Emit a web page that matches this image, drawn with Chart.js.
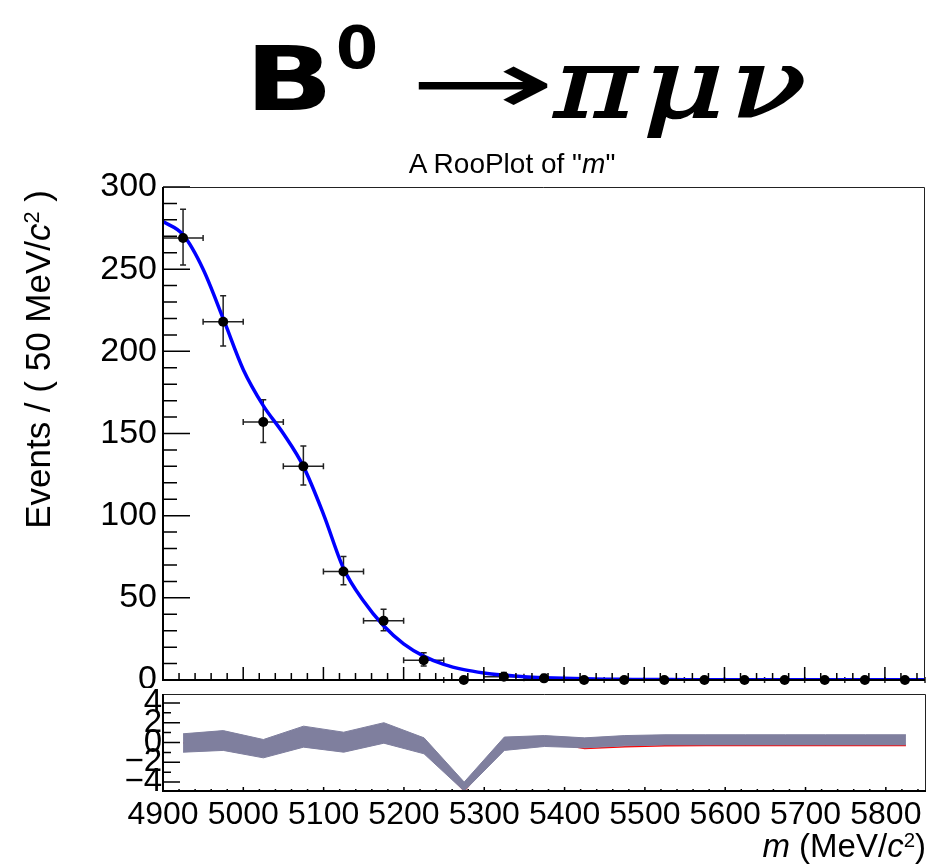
<!DOCTYPE html>
<html>
<head>
<meta charset="utf-8">
<script src="https://cdn.jsdelivr.net/npm/chart.js@4.4.0/dist/chart.umd.min.js"></script>
<style>
body { margin: 0; background: #fff; }
#page { position: relative; width: 930px; height: 867px; overflow: hidden; background: #fff; font-family: "Liberation Sans", Arial, sans-serif; color: #000; }
canvas { position: absolute; left: 0; }
#main { top: 0; }
#pull { top: 686px; }
.txt { position: absolute; white-space: nowrap; line-height: 1; }
#bigtitle { position: absolute; left: 245px; top: 0; width: 500px; height: 140px; transform: scaleX(1.3); transform-origin: 0 0; }
#bigtitle span { position: absolute; line-height: 1; white-space: nowrap; display: inline-block; }
sup.s2 { font-size: 0.62em; vertical-align: 0.5em; line-height: 0; }
</style>
</head>
<body>
<div id="page">
  <canvas id="main" width="930" height="688"></canvas>
  <canvas id="pull" width="930" height="181"></canvas>

  <div id="bigtitle">
    <span style="left:0; top:27px; font:bold 89px 'DejaVu Sans';">B</span>
    <span style="left:70px; top:14px; font:bold 58px 'DejaVu Sans'; transform:scaleX(0.8); transform-origin:0 0;">0</span>
    <span style="left:126px; top:30px; font:90px 'DejaVu Sans'; transform:scaleX(1.5); transform-origin:0 0;">→</span>
    <span style="left:238px; top:28px; font:italic 96px 'DejaVu Serif'; letter-spacing:5px; -webkit-text-stroke:2px #000;">πμν</span>
  </div>

  <div class="txt" style="left:0; width:1024px; top:150px; font-size:28px; text-align:center;">A RooPlot of "<i>m</i>"</div>

  <div class="txt" style="left:20px; top:532px; width:342px; font-size:35px; text-align:right; transform:rotate(-90deg); transform-origin:0 0;">Events / ( 50 MeV/<i>c</i><sup class="s2">2</sup> )</div>

  <div class="txt" style="right:4px; top:829px; font-size:33px;"><i>m</i> (MeV/<i>c</i><sup class="s2">2</sup>)</div>
</div>

<script>
// binned data, 50 MeV bins
var binCenters = [4925, 4975, 5025, 5075, 5125, 5175, 5225, 5275, 5325, 5375,
                  5425, 5475, 5525, 5575, 5625, 5675, 5725, 5775, 5825];
var counts   = [269, 218, 157, 130, 66, 36, 12, 0, 2, 1, 0, 0, 0, 0, 0, 0, 0, 0, 0];
var errHigh  = [17.4, 15.8, 13.5, 12.4, 9.2, 7.0, 4.6, 0, 2.6, 2.3, 0, 0, 0, 0, 0, 0, 0, 0, 0];
var errLow   = [16.4, 14.8, 12.5, 11.4, 8.1, 6.0, 3.5, 0, 1.3, 0.8, 0, 0, 0, 0, 0, 0, 0, 0, 0];
var binHalf  = 25;

// fit curve
var fitMass = [4900, 4925, 4950, 4975, 5000, 5025, 5050, 5075, 5100, 5125,
               5150, 5175, 5200, 5225, 5250, 5275, 5300, 5325, 5350, 5375,
               5400, 5425, 5450, 5475, 5500, 5525, 5550, 5575, 5600, 5625,
               5650, 5675, 5700, 5725, 5750, 5775, 5800, 5825, 5850];
var fitValues = [279, 271, 250, 220, 189, 167, 150, 130, 101, 68,
                 48, 33, 22, 14.5, 9.5, 6.3, 4.3, 3.0, 2.0, 1.4,
                 1.0, 0.7, 0.5, 0.4, 0.3, 0.25, 0.2, 0.2, 0.2, 0.2,
                 0.2, 0.2, 0.2, 0.2, 0.2, 0.2, 0.2, 0.2, 0.2];

// pull panel
var pullHigh = [0.88, 1.2, 0.3, 1.65, 1.04, 2.0, 0.47, -4.0, 0.55, 0.7,
                0.47, 0.7, 0.78, 0.78, 0.78, 0.78, 0.78, 0.78, 0.78];
var pullLow  = [-0.98, -0.8, -1.55, -0.47, -0.98, -0.07, -1.14, -4.9, -0.8, -0.4,
                -0.54, -0.34, -0.24, -0.24, -0.24, -0.24, -0.24, -0.24, -0.24];
var pullLine = [-0.05, 0.2, -0.6, 0.6, 0.0, 1.0, -0.3, -4.9, -0.1, 0.1,
                -0.6, -0.42, -0.32, -0.31, -0.31, -0.31, -0.31, -0.31, -0.31];

var massTicks = [4900, 5000, 5100, 5200, 5300, 5400, 5500, 5600, 5700, 5800];
var eventTicks = [0, 50, 100, 150, 200, 250, 300];
var pullTicks = [-4, -2, 0, 2, 4];
var pullTickLabels = ['\u22124', '\u22122', '0', '2', '4'];

var bandColor = 'rgb(127,127,158)';

function xy(xs, ys) {
  return xs.map(function (x, i) { return { x: x, y: ys[i] }; });
}

function range(a, b, step) {
  var out = [];
  for (var v = a; v <= b + 1e-9; v += step) out.push(v);
  return out;
}

// keep chart area fixed: no extra room for overhanging labels
function noPad(s) {
  s.paddingTop = 0; s.paddingBottom = 0; s.paddingLeft = 0; s.paddingRight = 0;
}

// ROOT style frame with inward ticks
function rootFrame(cfg) {
  return {
    id: 'rootFrame',
    afterDatasetsDraw: function (chart) {
      var ctx = chart.ctx, a = chart.chartArea;
      var xs = chart.scales.x, ys = chart.scales.y;
      ctx.save();
      ctx.strokeStyle = '#000';
      ctx.lineWidth = 1.5;
      ctx.beginPath();
      range(cfg.xMin, cfg.xMax, cfg.xMinorStep).forEach(function (v) {
        var major = cfg.xMajor.indexOf(v) >= 0;
        var px = xs.getPixelForValue(v);
        ctx.moveTo(px, a.bottom);
        ctx.lineTo(px, a.bottom - (major ? cfg.xMajorLen : cfg.xMinorLen));
      });
      range(cfg.yMin, cfg.yMax, cfg.yMinorStep).forEach(function (v) {
        var major = cfg.yMajor.indexOf(v) >= 0;
        var py = ys.getPixelForValue(v);
        ctx.moveTo(a.left, py);
        ctx.lineTo(a.left + (major ? cfg.yMajorLen : cfg.yMinorLen), py);
      });
      ctx.stroke();
      // thin top / right
      ctx.lineWidth = 1;
      ctx.strokeStyle = '#222';
      ctx.beginPath();
      ctx.moveTo(a.left, a.top + 0.5);
      ctx.lineTo(a.right - 0.5, a.top + 0.5);
      ctx.lineTo(a.right - 0.5, a.bottom);
      ctx.stroke();
      // thick left / bottom
      ctx.lineWidth = 2;
      ctx.strokeStyle = '#000';
      ctx.beginPath();
      ctx.moveTo(a.left, a.top);
      ctx.lineTo(a.left, a.bottom);
      ctx.lineTo(a.right, a.bottom);
      ctx.stroke();
      ctx.restore();
    }
  };
}

var errorBars = {
  id: 'errorBars',
  beforeDatasetsDraw: function (chart) {
    var ctx = chart.ctx, xs = chart.scales.x, ys = chart.scales.y;
    ctx.save();
    ctx.strokeStyle = '#222';
    ctx.lineWidth = 1.5;
    ctx.beginPath();
    binCenters.forEach(function (c, i) {
      var px = xs.getPixelForValue(c);
      var py = ys.getPixelForValue(counts[i]);
      var x1 = xs.getPixelForValue(c - binHalf), x2 = xs.getPixelForValue(c + binHalf);
      ctx.moveTo(x1, py); ctx.lineTo(x2, py);
      ctx.moveTo(x1, py - 3); ctx.lineTo(x1, py + 3);
      ctx.moveTo(x2, py - 3); ctx.lineTo(x2, py + 3);
      if (errHigh[i] > 0 || errLow[i] > 0) {
        var yt = ys.getPixelForValue(counts[i] + errHigh[i]);
        var yb = ys.getPixelForValue(counts[i] - errLow[i]);
        ctx.moveTo(px, yt); ctx.lineTo(px, yb);
        ctx.moveTo(px - 3, yt); ctx.lineTo(px + 3, yt);
        ctx.moveTo(px - 3, yb); ctx.lineTo(px + 3, yb);
      }
    });
    ctx.stroke();
    ctx.restore();
  }
};

var fontFamily = "'Liberation Sans', Arial, sans-serif";

new Chart(document.getElementById('main'), {
  type: 'scatter',
  data: {
    datasets: [{
      data: xy(binCenters, counts),
      pointRadius: 5,
      pointBackgroundColor: '#000',
      pointBorderWidth: 0,
      clip: false,
      order: 0
    }, {
      data: xy(fitMass, fitValues),
      showLine: true,
      pointRadius: 0,
      borderColor: '#0000ff',
      borderWidth: 3.5,
      cubicInterpolationMode: 'monotone',
      order: 1
    }]
  },
  options: {
    responsive: false,
    animation: false,
    layout: { padding: { top: 187, right: 4, left: 0, bottom: 0 } },
    plugins: { legend: { display: false }, tooltip: { enabled: false } },
    scales: {
      x: {
        type: 'linear', min: 4900, max: 5850,
        grid: { display: false, drawTicks: false },
        border: { display: false },
        ticks: { display: false },
        afterFit: function (s) { s.height = 8; noPad(s); }
      },
      y: {
        min: 0, max: 300,
        grid: { display: false, drawTicks: false },
        border: { display: false },
        afterBuildTicks: function (s) { s.ticks = eventTicks.map(function (v) { return { value: v }; }); },
        ticks: {
          padding: 6, color: '#000',
          font: { family: fontFamily, size: 34 },
          callback: function (v) { return String(v); }
        },
        afterFit: function (s) { s.width = 163; noPad(s); }
      }
    }
  },
  plugins: [errorBars, rootFrame({
    xMin: 4900, xMax: 5850, xMinorStep: 20, xMajor: massTicks, xMajorLen: 13, xMinorLen: 7,
    yMin: 0, yMax: 300, yMinorStep: 10, yMajor: eventTicks, yMajorLen: 27, yMinorLen: 14
  })]
});

new Chart(document.getElementById('pull'), {
  type: 'scatter',
  data: {
    datasets: [{
      data: xy(binCenters, pullHigh),
      showLine: true, pointRadius: 0,
      borderColor: bandColor, borderWidth: 1,
      backgroundColor: bandColor,
      fill: '+1',
      order: 0
    }, {
      data: xy(binCenters, pullLow),
      showLine: true, pointRadius: 0,
      borderColor: bandColor, borderWidth: 1,
      fill: false,
      order: 1
    }, {
      data: xy(binCenters, pullLine),
      showLine: true, pointRadius: 0,
      borderColor: '#ff0000', borderWidth: 1.5,
      fill: false,
      order: 2
    }]
  },
  options: {
    responsive: false,
    animation: false,
    layout: { padding: { top: 8, right: 4, left: 0, bottom: 0 } },
    plugins: { legend: { display: false }, tooltip: { enabled: false } },
    scales: {
      x: {
        type: 'linear', min: 4900, max: 5850,
        grid: { display: false, drawTicks: false },
        border: { display: false },
        afterBuildTicks: function (s) { s.ticks = massTicks.map(function (v) { return { value: v }; }); },
        ticks: {
          padding: 5, color: '#000', maxRotation: 0, autoSkip: false,
          font: { family: fontFamily, size: 32 },
          callback: function (v) { return String(v); }
        },
        afterFit: function (s) { s.height = 76; noPad(s); }
      },
      y: {
        min: -4.9, max: 4.9,
        grid: { display: false, drawTicks: false },
        border: { display: false },
        afterBuildTicks: function (s) { s.ticks = pullTicks.map(function (v) { return { value: v }; }); },
        ticks: {
          padding: 1, color: '#000', autoSkip: false,
          font: { family: fontFamily, size: 33 },
          callback: function (v, i) { return pullTickLabels[i]; }
        },
        afterFit: function (s) { s.width = 163; noPad(s); }
      }
    }
  },
  plugins: [rootFrame({
    xMin: 4900, xMax: 5850, xMinorStep: 20, xMajor: massTicks, xMajorLen: 4, xMinorLen: 2,
    yMin: -4, yMax: 4, yMinorStep: 1, yMajor: pullTicks, yMajorLen: 17, yMinorLen: 8
  })]
});
</script>
</body>
</html>
